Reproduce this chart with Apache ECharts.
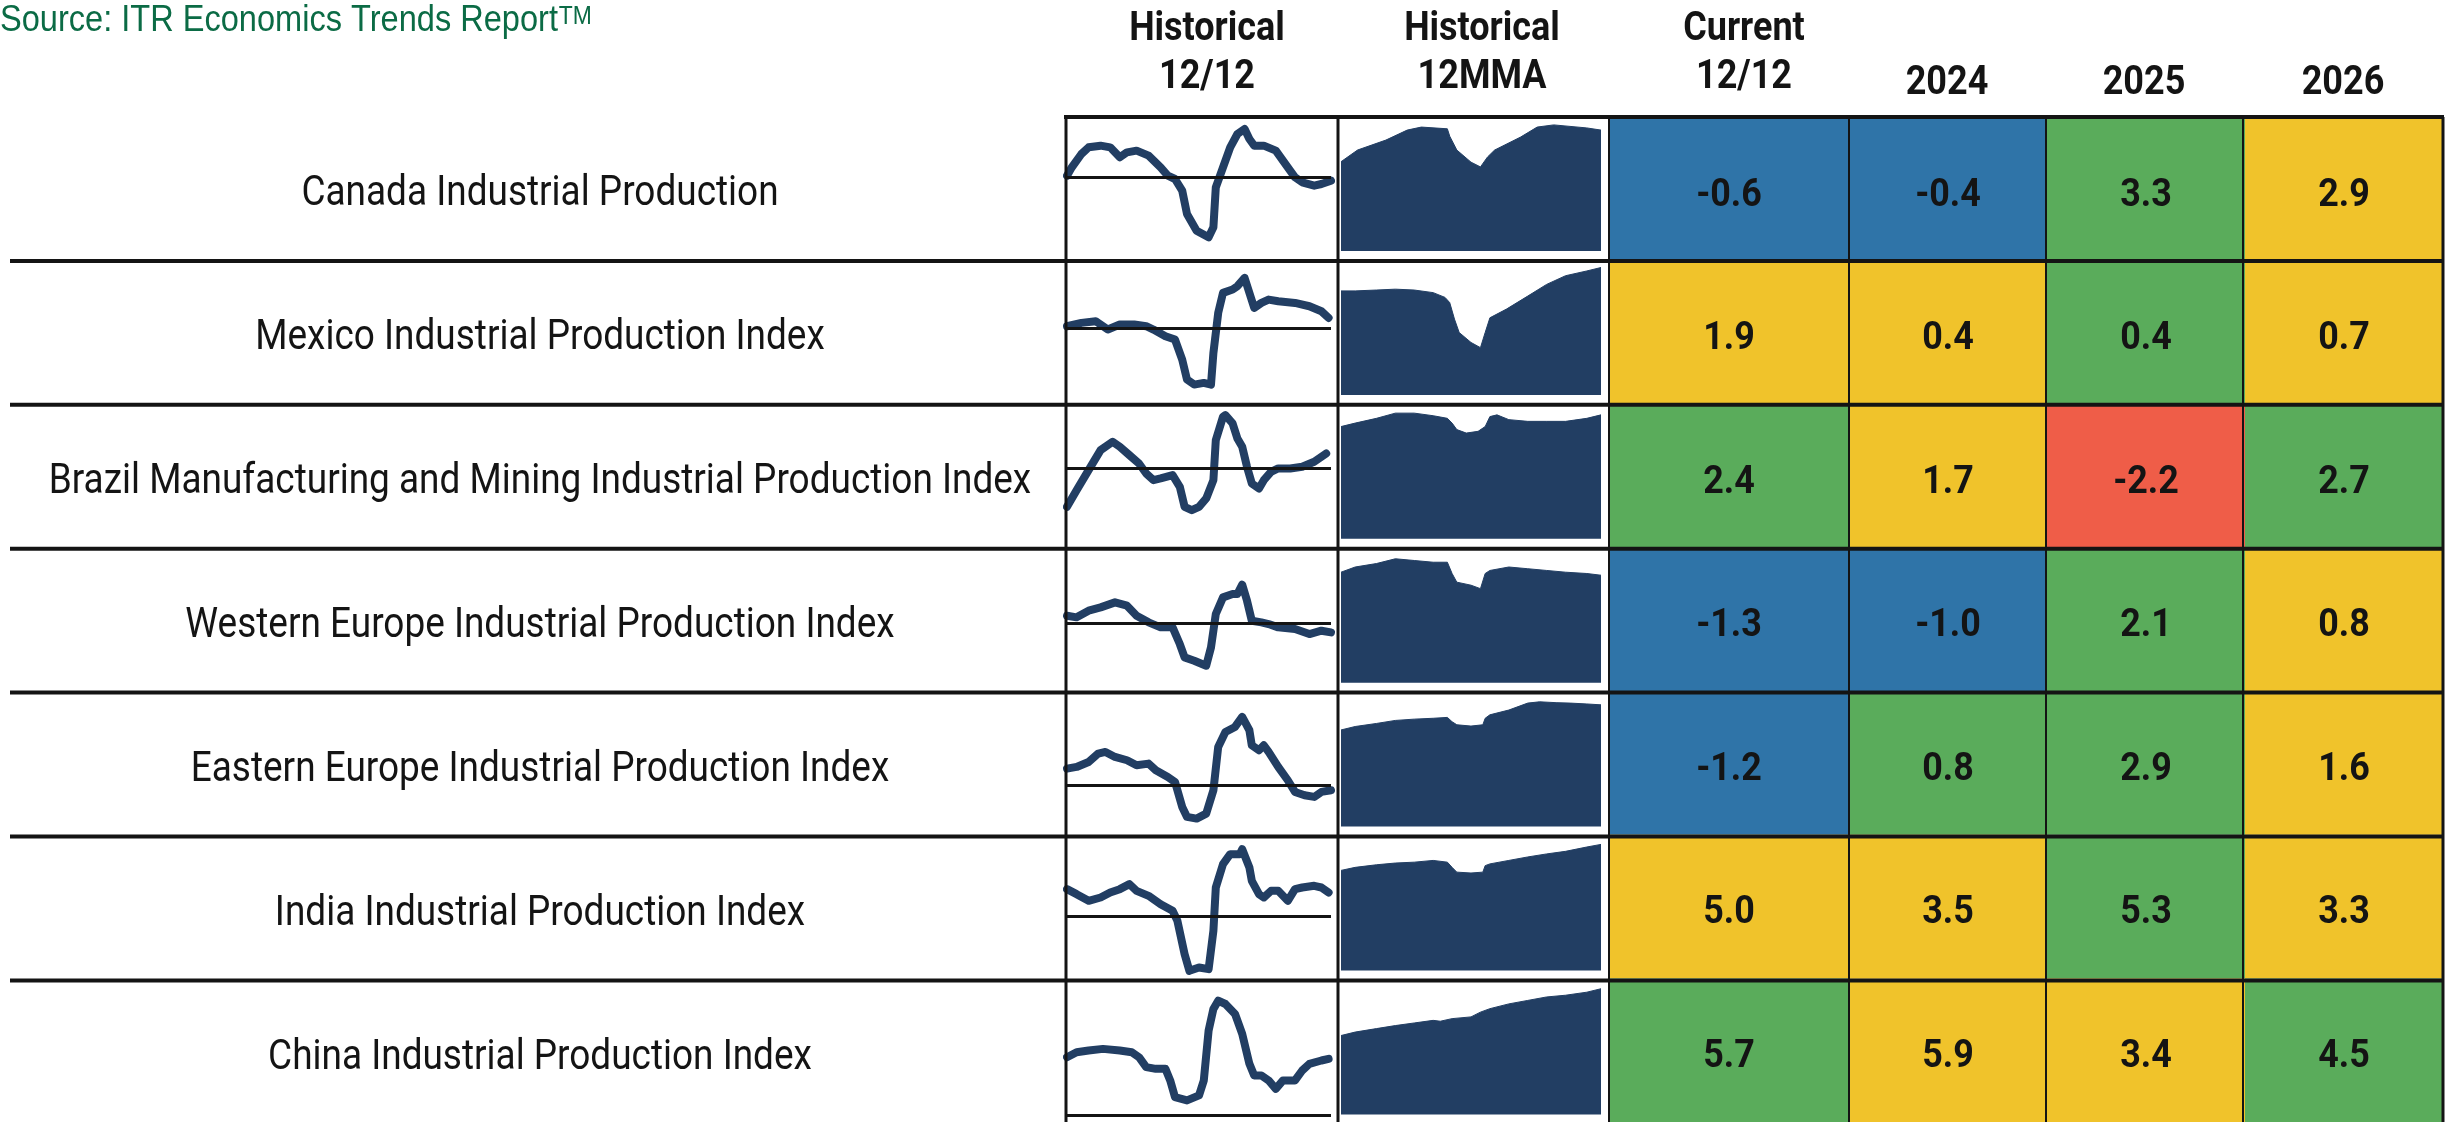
<!DOCTYPE html>
<html>
<head>
<meta charset="utf-8">
<title>Industrial Production Trends</title>
<script src="https://cdn.jsdelivr.net/npm/echarts@6/dist/echarts.min.js"></script>
<style>
  html, body { margin: 0; padding: 0; background: #ffffff; }
  #chart { width: 2453px; height: 1122px; }
</style>
</head>
<body>
<div id="chart"></div>
<script>
// ---- Data ----------------------------------------------------------------
const indicators = [
  'Canada Industrial Production',
  'Mexico Industrial Production Index',
  'Brazil Manufacturing and Mining Industrial Production Index',
  'Western Europe Industrial Production Index',
  'Eastern Europe Industrial Production Index',
  'India Industrial Production Index',
  'China Industrial Production Index'
];

const headerTop = ['Historical', 'Historical', 'Current', '', '', ''];
const headerBottom = ['12/12', '12MMA', '12/12', '2024', '2025', '2026'];
const forecastYears = ['2024', '2025', '2026'];

const currentValues = [-0.6, 1.9, 2.4, -1.3, -1.2, 5.0, 5.7];
const forecast2024 = [-0.4, 0.4, 1.7, -1.0, 0.8, 3.5, 5.9];
const forecast2025 = [3.3, 0.4, -2.2, 2.1, 2.9, 5.3, 3.4];
const forecast2026 = [2.9, 0.7, 2.7, 0.8, 1.6, 3.3, 4.5];

// Business-cycle phase of each cell: current, 2024, 2025, 2026
const phases = [
  ['A', 'A', 'B', 'C'],
  ['C', 'C', 'B', 'C'],
  ['B', 'C', 'D', 'B'],
  ['A', 'A', 'B', 'C'],
  ['A', 'B', 'B', 'C'],
  ['C', 'C', 'B', 'C'],
  ['B', 'C', 'C', 'B']
];

// 12/12 rate-of-change history: [month index, %]
const canadaRoc = [[0,0.5],[2,3.0],[6,7.0],[9,9.0],[14,9.5],[18,9.0],[22,6.0],[25,7.5],[29,8.0],[34,6.5],[39,3.0],[42,0.5],[45,-0.5],[48,-4.0],[50,-11.0],[54,-16.0],[59,-18.0],[61,-15.0],[62,-3.0],[65,3.0],[68,9.0],[71,13.0],[74,14.5],[76,11.5],[78,9.5],[82,9.5],[87,8.0],[92,3.0],[95,0.0],[98,-1.5],[103,-2.5],[106,-2.0],[110,-1.0]];
const mexicoRoc = [[0,0.5],[6,1.5],[12,2.0],[17,-0.5],[22,1.0],[28,1.0],[33,0.5],[36,-0.5],[41,-2.5],[45,-3.5],[48,-9.5],[50,-15.5],[53,-17.0],[57,-16.5],[60,-17.0],[61,-7.5],[63,4.5],[65,10.5],[69,11.5],[71,12.5],[74,15.0],[76,10.5],[78,6.0],[81,7.5],[84,8.5],[88,8.0],[95,7.5],[101,6.5],[106,5.0],[109,3.0]];
const brazilRoc = [[0,-11.7],[4,-6.7],[9,-0.7],[14,5.3],[19,7.8],[22,6.3],[26,3.8],[30,1.3],[33,-1.7],[36,-3.7],[39,-3.2],[44,-2.2],[47,-5.7],[49,-11.7],[52,-12.7],[55,-11.7],[58,-9.2],[61,-3.7],[62,8.3],[65,15.3],[66,15.8],[69,13.3],[71,8.8],[73,6.3],[75,0.3],[77,-4.7],[80,-6.2],[82,-3.7],[85,-1.2],[88,-0.2],[93,-0.2],[98,0.3],[103,1.8],[108,4.3]];
const westernEuropeRoc = [[0,2.3],[4,1.8],[9,3.8],[14,4.8],[20,6.3],[25,5.3],[29,2.3],[34,0.3],[39,-1.2],[44,-1.2],[47,-6.2],[49,-10.2],[53,-11.2],[58,-12.7],[60,-7.2],[62,2.8],[65,7.8],[69,8.8],[71,8.8],[73,11.6],[75,6.8],[77,0.8],[81,0.3],[84,-0.2],[88,-1.2],[95,-1.7],[101,-3.2],[106,-2.2],[110,-2.7]];
const easternEuropeRoc = [[0,5.0],[4,5.5],[9,7.0],[13,9.5],[16,10.0],[20,8.5],[25,7.5],[29,6.0],[34,6.5],[37,4.5],[42,2.5],[45,1.0],[48,-6.5],[50,-9.5],[54,-10.0],[58,-8.5],[61,-1.5],[63,11.5],[66,16.0],[70,17.5],[73,20.5],[76,16.5],[77,12.0],[80,10.5],[82,12.0],[84,10.0],[88,5.5],[92,1.5],[95,-2.0],[99,-3.0],[103,-3.5],[106,-2.0],[110,-1.5]];
const indiaRoc = [[0,8.0],[4,6.5],[9,4.5],[14,5.5],[18,7.0],[22,8.0],[26,9.5],[29,7.5],[34,6.0],[39,3.5],[44,1.5],[46,-1.5],[49,-11.5],[51,-16.5],[55,-15.5],[59,-16.0],[61,-4.5],[62,8.5],[65,15.5],[68,18.5],[72,18.5],[73,20.0],[76,14.5],[77,10.5],[80,6.5],[82,5.5],[85,7.5],[88,7.5],[92,4.5],[95,8.0],[98,8.5],[103,9.0],[106,8.5],[109,7.0]];
const chinaRoc = [[0,17.5],[4,19.0],[9,19.5],[15,20.0],[22,19.5],[27,19.0],[30,17.5],[33,14.5],[37,14.0],[41,14.0],[43,10.5],[45,5.5],[50,4.5],[55,6.0],[57,10.5],[59,25.5],[61,32.0],[63,34.5],[66,33.5],[70,30.5],[73,24.5],[76,15.5],[78,12.0],[81,12.0],[84,10.5],[87,8.0],[90,10.5],[95,10.5],[98,13.5],[101,15.5],[106,16.5],[109,17.0]];

// 12-month moving average level history: [month index, index value]
const canadaMma = [[0,90.6],[7,93.3],[19,95.6],[28,97.9],[34,98.6],[45,98.2],[46,96.5],[49,93.3],[55,90.5],[59,89.4],[62,91.7],[65,93.3],[76,96.3],[83,98.6],[90,99.1],[104,98.4],[110,97.9]];
const mexicoMma = [[0,94.0],[6,94.0],[15,94.2],[23,94.4],[31,94.2],[39,93.6],[44,92.5],[46,91.3],[48,87.5],[50,84.4],[55,82.1],[59,80.9],[61,84.4],[63,87.8],[70,89.8],[79,92.8],[87,95.5],[95,97.5],[104,98.6],[110,99.4]];
const brazilMma = [[0,95.9],[6,96.7],[15,97.8],[23,99.0],[31,99.0],[39,98.4],[45,97.8],[47,96.7],[49,95.2],[53,94.4],[58,94.8],[61,95.9],[63,98.2],[66,98.6],[71,97.5],[79,97.1],[87,97.1],[95,97.1],[104,97.8],[110,98.6]];
const westernEuropeMma = [[0,95.5],[6,96.7],[15,97.5],[23,98.6],[31,98.2],[39,97.8],[45,97.8],[47,95.2],[49,93.2],[55,92.5],[59,91.7],[61,95.2],[63,95.9],[71,96.7],[79,96.3],[87,95.9],[95,95.5],[104,95.2],[110,94.8]];
const easternEuropeMma = [[0,92.3],[6,93.1],[15,93.8],[23,94.5],[31,94.8],[39,95.0],[45,95.2],[47,94.2],[49,93.5],[55,93.2],[60,93.5],[61,95.0],[63,95.8],[71,96.9],[79,98.5],[84,98.8],[91,98.6],[97,98.5],[104,98.3],[110,98.1]];
const indiaMma = [[0,93.1],[6,93.8],[15,94.4],[23,94.8],[31,95.0],[39,95.4],[45,95.0],[47,93.8],[49,92.7],[55,92.5],[60,92.7],[61,94.2],[63,94.6],[71,95.4],[79,96.2],[87,96.9],[95,97.5],[104,98.5],[110,99.1]];
const chinaMma = [[0,88.2],[6,89.0],[15,89.8],[23,90.5],[31,91.1],[39,91.7],[42,91.5],[47,92.1],[55,92.5],[59,93.6],[63,94.4],[71,95.5],[79,96.3],[87,97.1],[95,97.5],[104,98.2],[110,99.0]];

// Axis extents
const monthRange = [0, 110];
const rocRanges = [[-24.5,17.5],[-22.5,19.5],[-23.7,18.3],[-20.2,21.8],[-14.8,27.2],[-18.8,23.2],[-2,40]];
const mmaRange = [70, 100];

const rocSeries = [canadaRoc, mexicoRoc, brazilRoc, westernEuropeRoc, easternEuropeRoc, indiaRoc, chinaRoc];
const mmaSeries = [canadaMma, mexicoMma, brazilMma, westernEuropeMma, easternEuropeMma, indiaMma, chinaMma];
const forecastValues = [forecast2024, forecast2025, forecast2026];

// ---- Layout & style ------------------------------------------------------
const W = 2453, H = 1122;
const TOP = 117, ROW_H = 143.9;
const rowTop = i => TOP + i * ROW_H;
const LABEL_CX = 540;
const ROC_LEFT = 1067, ROC_W = 264;
const MMA_LEFT = 1341, MMA_W = 260;
const CUR_LEFT = 1609, CUR_W = 240;
const FC_LEFT = 1849, FC_RIGHT = 2443;
const NAVY = '#223e63';
const INK = '#141414';
const SOURCE_GREEN = '#0b6b45';
const phaseColors = { A: '#2f74a8', B: '#5aac5b', C: '#f0c32b', D: '#ef5d48' };
const CONDENSE = 0.88;

const grid = [], xAxis = [], yAxis = [], series = [];

function addGrid(g, xa, ya) {
  const idx = grid.length;
  grid.push(Object.assign({ containLabel: false }, g));
  xAxis.push(Object.assign({ gridIndex: idx, show: false }, xa));
  yAxis.push(Object.assign({ gridIndex: idx, show: false }, ya));
  return idx;
}

indicators.forEach((name, i) => {
  // Historical 12/12 sparkline with zero reference
  const g1 = addGrid(
    { left: ROC_LEFT, width: ROC_W, top: rowTop(i) + 2, height: 140 },
    { type: 'value', min: monthRange[0], max: monthRange[1] },
    { type: 'value', min: rocRanges[i][0], max: rocRanges[i][1] }
  );
  series.push({
    type: 'line', name: name + ' 12/12', xAxisIndex: g1, yAxisIndex: g1,
    data: rocSeries[i], showSymbol: false, silent: true, smooth: false,
    lineStyle: { color: NAVY, width: 8, join: 'round', cap: 'round' },
    markLine: {
      silent: true, symbol: 'none', label: { show: false },
      lineStyle: { color: INK, width: 3, type: 'solid' },
      data: [{ yAxis: 0 }]
    }
  });

  // Historical 12MMA area
  const g2 = addGrid(
    { left: MMA_LEFT, width: MMA_W, top: rowTop(i) + 4, height: 130 },
    { type: 'value', min: monthRange[0], max: monthRange[1] },
    { type: 'value', min: mmaRange[0], max: mmaRange[1] }
  );
  series.push({
    type: 'line', name: name + ' 12MMA', xAxisIndex: g2, yAxisIndex: g2,
    data: mmaSeries[i], showSymbol: false, silent: true,
    lineStyle: { color: NAVY, width: 1 },
    areaStyle: { color: NAVY, opacity: 1, origin: 'start' }
  });
});

// Value cells, coloured by phase
function makeCellRenderer(rows) {
  return function (params, api) {
    const row = rows[params.dataIndex];
    const c = api.coord([row[0], row[1]]);
    const s = api.size([1, 1]);
    return {
      type: 'group',
      children: [
        { type: 'rect', shape: { x: c[0] - s[0] / 2, y: c[1] - s[1] / 2, width: s[0], height: s[1] },
          style: { fill: phaseColors[row[3]] } },
        { type: 'text', x: c[0], y: c[1] + 7, scaleX: 0.92,
          style: { text: row[2].toFixed(1), fill: INK, fontFamily: 'Roboto', fontWeight: 'bold', fontSize: 39,
                   align: 'center', verticalAlign: 'middle' } }
      ]
    };
  };
}

const curData = currentValues.map((v, i) => [0, i, v, phases[i][0]]);
const gCur = addGrid(
  { left: CUR_LEFT, width: CUR_W, top: TOP, height: ROW_H * indicators.length },
  { type: 'category', data: ['Current 12/12'] },
  { type: 'category', data: indicators, inverse: true }
);
series.push({
  type: 'custom', name: 'Current 12/12', xAxisIndex: gCur, yAxisIndex: gCur, silent: true,
  renderItem: makeCellRenderer(curData),
  data: curData.map(r => [r[0], r[1], r[2]])
});

const fcData = [];
forecastValues.forEach((arr, j) => arr.forEach((v, i) => fcData.push([j, i, v, phases[i][j + 1]])));
const gFc = addGrid(
  { left: FC_LEFT, width: FC_RIGHT - FC_LEFT, top: TOP, height: ROW_H * indicators.length },
  { type: 'category', data: forecastYears },
  { type: 'category', data: indicators, inverse: true }
);
series.push({
  type: 'custom', name: 'Forecast', xAxisIndex: gFc, yAxisIndex: gFc, silent: true,
  renderItem: makeCellRenderer(fcData),
  data: fcData.map(r => [r[0], r[1], r[2]])
});

// ---- Text & rules --------------------------------------------------------
const elements = [];

elements.push({
  type: 'text', x: 0, y: 2, scaleX: 0.88, z: 50,
  style: {
    text: '{a|Source: ITR Economics Trends Report}{b|TM}',
    verticalAlign: 'top',
    rich: {
      a: { fontFamily: 'Liberation Sans', fontSize: 37, fill: SOURCE_GREEN },
      b: { fontFamily: 'Liberation Sans', fontSize: 26, fill: SOURCE_GREEN, verticalAlign: 'top', padding: [2, 0, 0, 1] }
    }
  }
});

const headerCenters = [1207, 1482, 1744, 1947, 2144, 2343];
headerBottom.forEach((t, k) => {
  const common = { fill: INK, fontFamily: 'Roboto', fontWeight: 'bold', fontSize: 40, align: 'center', verticalAlign: 'middle' };
  if (headerTop[k]) {
    elements.push({ type: 'text', x: headerCenters[k], y: 30, scaleX: 0.9, z: 50,
      style: Object.assign({ text: headerTop[k] }, common) });
  }
  elements.push({ type: 'text', x: headerCenters[k], y: headerTop[k] ? 78 : 84, scaleX: 0.9, z: 50,
    style: Object.assign({ text: t }, common) });
});

indicators.forEach((name, i) => {
  elements.push({ type: 'text', x: LABEL_CX, y: rowTop(i) + ROW_H / 2 + 6, scaleX: CONDENSE, z: 50,
    style: { text: name, fill: INK, fontFamily: 'Roboto', fontSize: 42, align: 'center', verticalAlign: 'middle' } });
});

function rule(x1, y1, x2, y2, w) {
  elements.push({ type: 'line', z: 60, silent: true,
    shape: { x1, y1, x2, y2 }, style: { stroke: INK, lineWidth: w } });
}
// top border over the data columns
rule(1064, TOP, FC_RIGHT + 1, TOP, 4);
// row separators across the full width
for (let i = 1; i < indicators.length; i++) rule(10, rowTop(i), FC_RIGHT + 1, rowTop(i), 4);
// column separators
rule(1066, TOP, 1066, H, 3);
rule(1338, TOP, 1338, H, 3);
rule(CUR_LEFT, TOP, CUR_LEFT, H, 2);
[1849, 2046, 2243].forEach(x => rule(x, TOP, x, H, 2));
rule(FC_RIGHT, TOP, FC_RIGHT, H, 3);

const chart = echarts.init(document.getElementById('chart'), null, { renderer: 'canvas', width: W, height: H });
chart.setOption({
  backgroundColor: '#ffffff',
  animation: false,
  grid, xAxis, yAxis, series,
  graphic: { elements }
});
</script>
</body>
</html>
